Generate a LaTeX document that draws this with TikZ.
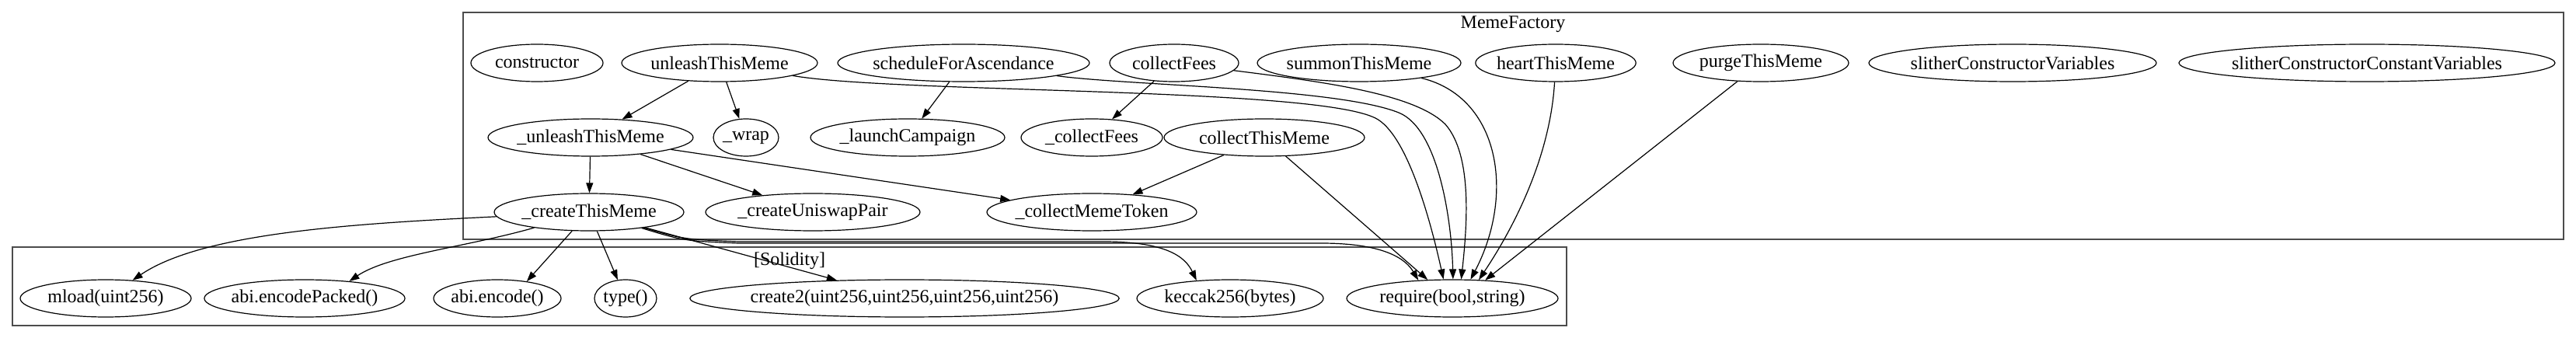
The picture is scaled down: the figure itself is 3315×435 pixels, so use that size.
\documentclass[tikz,border=0pt]{standalone}
\usepackage{fontspec}
\setmainfont{Liberation Serif}
\usetikzlibrary{shapes.geometric,arrows.meta}

\begin{document}
\begin{tikzpicture}[x=1pt, y=-1pt,
    fn/.style={ellipse, draw, line width=1.2pt, inner xsep=-3pt, inner ysep=0pt,
               minimum height=48pt, font=\fontsize{24}{28}\selectfont},
    cluster/.style={draw=black!70, line width=1.6pt},
    lbl/.style={font=\fontsize{24}{28}\selectfont},
    call/.style={-{Triangle[length=13pt,width=9pt]}, line width=1.2pt}
]
\useasboundingbox (0,0) rectangle (3315,435);

% Clusters
\draw[cluster] (596,16) rectangle (3299,308);
\draw[cluster] (16,318) rectangle (2016,419);
\node[lbl] (mf)  at (1947,31)  {MemeFactory};
\node[lbl] (sol) at (1016,336) {[Solidity]};

% MemeFactory, first row
\node[fn, minimum width=170pt] (ctor) at (691,81)  {constructor};
\node[fn, minimum width=252pt] (uTM)  at (926,81)  {unleashThisMeme};
\node[fn, minimum width=324pt] (sFA)  at (1240,81) {scheduleForAscendance};
\node[fn, minimum width=166pt] (cF)   at (1511,81) {collectFees};
\node[fn, minimum width=262pt] (sum)  at (1749,81) {summonThisMeme};
\node[fn, minimum width=198pt] (hrt)  at (2002,81) {heartThisMeme};
\node[fn, minimum width=226pt] (prg)  at (2266,81) {purgeThisMeme};
\node[fn, minimum width=370pt] (scv)  at (2590,81) {slitherConstructorVariables};
\node[fn, minimum width=484pt] (sccv) at (3046,81) {slitherConstructorConstantVariables};

% MemeFactory, second row
\node[fn, minimum width=264pt] (iuTM) at (760,177)  {\_unleashThisMeme};
\node[fn, minimum width=84pt]  (wrap) at (960,177)  {\_wrap};
\node[fn, minimum width=250pt] (lC)   at (1168,177) {\_launchCampaign};
\node[fn, minimum width=182pt] (icF)  at (1405,177) {\_collectFees};
\node[fn, minimum width=258pt] (cThM) at (1627,177) {collectThisMeme};

% MemeFactory, third row
\node[fn, minimum width=244pt] (icTM) at (758,273)  {\_createThisMeme};
\node[fn, minimum width=276pt] (cUP)  at (1046,273) {\_createUniswapPair};
\node[fn, minimum width=270pt] (cMT)  at (1405,273) {\_collectMemeToken};

% Solidity
\node[fn, minimum width=220pt] (mld) at (136,384)  {mload(uint256)};
\node[fn, minimum width=246pt] (aEP) at (392,384)  {abi.encodePacked()};
\node[fn, minimum width=164pt] (aE)  at (640,384)  {abi.encode()};
\node[fn, minimum width=80pt]  (typ) at (805,384)  {type()};
\node[fn, minimum width=548pt] (cr2) at (1164,384) {create2(uint256,uint256,uint256,uint256)};
\node[fn, minimum width=240pt] (kec) at (1583,384) {keccak256(bytes)};
\node[fn, minimum width=272pt] (req) at (1869,384) {require(bool,string)};

% Calls inside MemeFactory
\draw[call] (uTM) -- (iuTM);
\draw[call] (uTM) -- (wrap);
\draw[call] (sFA) -- (lC);
\draw[call] (cF) -- (icF);
\draw[call] (iuTM) -- (icTM);
\draw[call] (iuTM) -- (cUP);
\draw[call] (iuTM) -- (cMT);
\draw[call] (cThM) -- (cMT);

% Calls to require
\draw[call] (uTM) .. controls (1150,120) and (1690,112) .. (1770,152)
                  .. controls (1810,172) and (1840,280) .. (req.115);
\draw[call] (sFA) .. controls (1450,110) and (1720,113) .. (1800,145)
                  .. controls (1850,165) and (1868,280) .. (req.88);
\draw[call] (cF) .. controls (1700,105) and (1820,120) .. (1860,160)
                 .. controls (1895,200) and (1888,290) .. (req.65);
\draw[call] (sum) .. controls (1930,125) and (1950,250) .. (req.46);
\draw[call] (hrt) .. controls (1995,200) and (1950,290) .. (req.35);
\draw[call] (prg) -- (req.29);
\draw[call] (cThM) -- (req.143);

% Calls from _createThisMeme
\draw[call] (icTM) .. controls (450,288) and (260,300) .. (mld.34);
\draw[call] (icTM) .. controls (600,318) and (500,328) .. (aEP.21);
\draw[call] (icTM) -- (aE.30);
\draw[call] (icTM) -- (typ);
\draw[call] (icTM) -- (cr2.165);
\draw[call] (icTM) .. controls (880,308) .. (950,311) -- (1420,311)
                   .. controls (1500,311) and (1525,330) .. (kec.152);
\draw[call] (icTM) .. controls (880,310) .. (950,313) -- (1700,313)
                   .. controls (1785,313) and (1810,335) .. (req.152);

\end{tikzpicture}
\end{document}
